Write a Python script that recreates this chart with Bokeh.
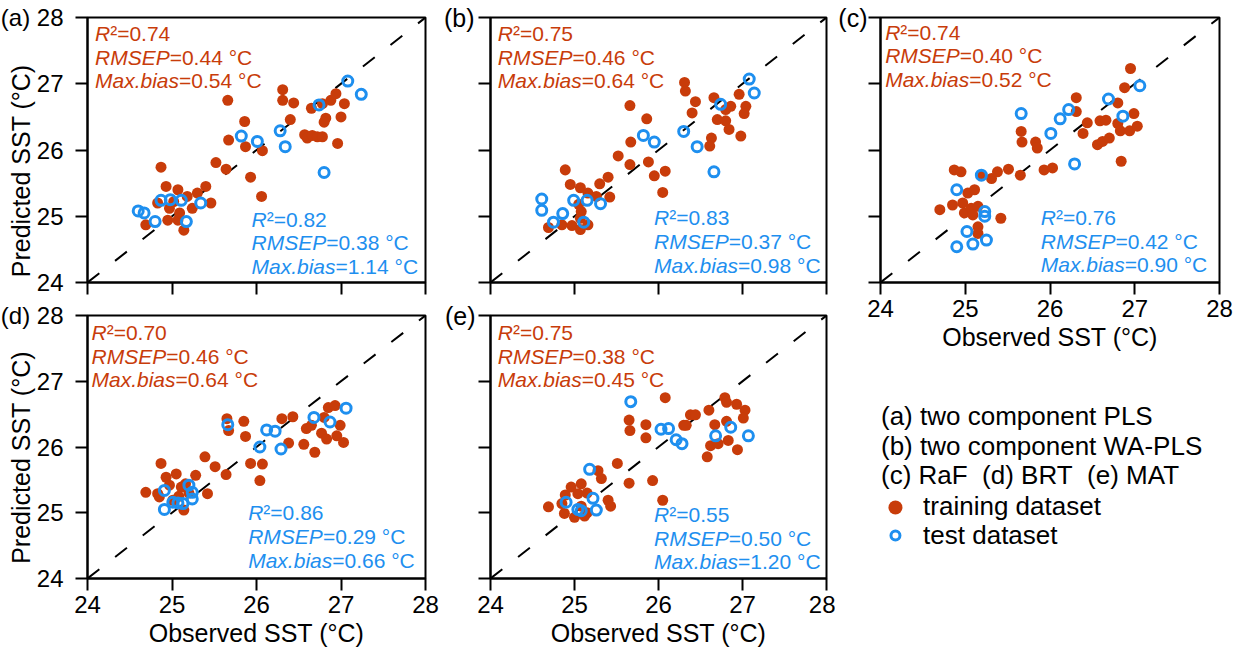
from bokeh.plotting import figure
from bokeh.models import Range1d, FixedTicker
from bokeh.layouts import row, column
from bokeh.core.properties import value
from bokeh.embed import file_html
from bokeh.resources import INLINE

# ---------------- data ----------------
axis_ticks = [24, 25, 26, 27, 28]
one_to_one = [24, 28]

panel_letters = ["(a)", "(b)", "(c)", "(d)", "(e)"]
model_names = ["two component PLS", "two component WA-PLS", "RaF", "BRT", "MAT"]

r2_train = [0.74, 0.75, 0.74, 0.70, 0.75]
rmsep_train = [0.44, 0.46, 0.40, 0.46, 0.38]
maxbias_train = [0.54, 0.64, 0.52, 0.64, 0.45]
r2_test = [0.82, 0.83, 0.76, 0.86, 0.55]
rmsep_test = [0.38, 0.37, 0.42, 0.29, 0.50]
maxbias_test = [1.14, 0.98, 0.90, 0.66, 1.20]

# (a) two component PLS
a_train_obs = [24.69, 24.87, 24.93, 24.83, 24.97, 24.95, 25.07, 25.07, 25.09, 25.14, 25.24, 25.30, 25.40, 25.46,
               25.52, 25.64, 25.66, 25.67, 25.86, 25.87, 25.93, 26.07, 26.06, 26.31, 26.31, 26.44, 26.40, 26.57,
               26.60, 26.66, 26.72, 26.78, 26.65, 26.78, 26.82, 26.80, 26.88, 26.94, 27.04, 27.00, 26.96, 25.18, 25.02]
a_train_pred = [24.87, 25.74, 25.45, 25.20, 25.12, 24.94, 24.94, 25.40, 25.05, 24.79, 25.12, 25.35, 25.45, 25.20,
                25.81, 25.71, 26.75, 26.15, 26.43, 26.05, 25.59, 25.99, 25.30, 26.91, 26.75, 26.71, 26.46, 26.23,
                26.18, 26.22, 26.20, 26.20, 26.63, 26.70, 26.48, 26.42, 26.75, 26.85, 26.70, 26.50, 26.10, 25.30, 25.22]
a_test_obs = [24.60, 24.67, 24.80, 24.87, 24.98, 25.11, 25.17, 25.34, 25.82, 26.01, 26.28, 26.34, 26.74, 26.80, 27.08, 27.24]
a_test_pred = [25.08, 25.05, 24.92, 25.24, 25.25, 25.24, 24.92, 25.20, 26.21, 26.13, 26.29, 26.05, 26.68, 25.66, 27.04, 26.84]

# (b) two component WA-PLS
b_train_obs = [24.69, 24.89, 24.95, 24.85, 24.97, 25.07, 25.07, 25.16, 25.05, 25.08, 25.07, 25.16, 25.26, 25.30,
               25.40, 25.42, 25.52, 25.66, 25.67, 25.66, 25.86, 25.88, 25.95, 26.08, 26.05, 26.31, 26.32, 26.44,
               26.40, 26.63, 26.61, 26.66, 26.70, 26.80, 26.80, 26.84, 26.86, 26.96, 26.98, 27.04, 27.02]
b_train_pred = [24.83, 25.70, 25.48, 24.87, 24.86, 25.43, 24.80, 25.35, 25.18, 25.07, 24.97, 24.87, 25.30, 25.49,
                25.59, 25.29, 25.91, 26.67, 26.12, 25.78, 26.47, 25.82, 25.61, 25.68, 25.36, 27.02, 26.89, 26.73,
                26.56, 26.18, 26.06, 26.79, 26.46, 26.61, 26.44, 26.31, 26.66, 26.84, 26.21, 26.66, 26.55]
b_test_obs = [24.61, 24.61, 24.75, 24.86, 24.99, 25.11, 25.15, 25.31, 25.82, 25.95, 26.30, 26.46, 26.66, 26.74, 27.08, 27.14]
b_test_pred = [25.26, 25.09, 24.91, 25.04, 25.24, 24.91, 25.24, 25.19, 26.22, 26.12, 26.28, 26.05, 25.67, 26.69, 27.07, 26.86]

# (c) RaF
c_train_obs = [24.70, 24.85, 24.87, 24.95, 24.97, 24.99, 25.03, 25.11, 25.07, 25.15, 25.09, 25.15, 25.15, 25.19,
               25.31, 25.38, 25.51, 25.65, 25.42, 25.66, 25.67, 25.83, 25.85, 25.93, 26.03, 26.31, 26.31, 26.44,
               26.39, 26.56, 26.62, 26.70, 26.59, 26.66, 26.80, 26.80, 26.83, 26.84, 26.88, 26.95, 26.94, 26.99, 27.03]
c_train_pred = [25.10, 25.17, 25.70, 25.67, 25.20, 25.05, 25.35, 25.40, 25.12, 25.15, 25.02, 24.84, 24.74, 25.62,
                25.57, 25.67, 25.71, 25.62, 24.97, 26.28, 26.12, 26.12, 26.03, 25.70, 25.73, 26.79, 26.58, 26.41,
                26.25, 26.08, 26.13, 26.18, 26.44, 26.45, 26.71, 26.40, 26.29, 25.83, 26.94, 27.23, 26.29, 26.55, 26.36]
c_test_obs = [24.90, 24.90, 25.02, 25.09, 25.19, 25.23, 25.23, 25.25, 25.66, 26.01, 26.12, 26.22, 26.29, 26.69, 26.86, 27.06]
c_test_pred = [25.40, 24.54, 24.77, 24.58, 25.62, 25.07, 25.00, 24.64, 26.55, 26.25, 26.47, 26.61, 25.79, 26.77, 26.51, 26.97]

# (d) BRT
d_train_obs = [24.69, 24.87, 24.83, 24.93, 25.05, 24.97, 25.11, 24.85, 25.01, 25.14, 25.16, 25.28, 25.39, 25.51,
               25.64, 25.42, 25.65, 25.67, 25.85, 25.87, 25.93, 26.07, 26.04, 26.30, 26.43, 26.38, 26.56, 26.59,
               26.65, 26.69, 26.80, 26.77, 26.83, 26.85, 26.93, 26.95, 26.99, 27.03, 25.20, 25.08]
d_train_pred = [25.31, 25.75, 25.29, 25.54, 25.59, 25.42, 25.39, 25.24, 25.19, 25.04, 25.44, 25.57, 25.85, 25.70,
                25.58, 25.29, 26.43, 26.25, 26.39, 26.16, 25.75, 25.74, 25.49, 26.43, 26.46, 26.06, 26.04, 26.28,
                26.33, 25.92, 26.45, 26.21, 26.12, 26.60, 26.63, 26.17, 26.33, 26.07, 25.30, 25.25]
d_test_obs = [24.91, 24.91, 25.01, 25.07, 25.13, 25.20, 25.24, 25.24, 25.66, 26.04, 26.12, 26.22, 26.29, 26.68, 26.87, 27.06]
d_test_pred = [25.34, 25.05, 25.16, 25.15, 25.14, 25.42, 25.31, 25.21, 26.34, 26.00, 26.26, 26.24, 25.97, 26.45, 26.38, 26.59]

# (e) MAT
e_train_obs = [24.69, 24.85, 24.89, 24.96, 25.08, 25.04, 25.15, 24.88, 25.00, 25.08, 25.15, 25.12, 25.28, 25.32,
               25.40, 25.43, 25.51, 25.65, 25.65, 25.66, 25.85, 25.85, 25.93, 26.08, 26.05, 26.30, 26.33, 26.38,
               26.44, 26.60, 26.58, 26.62, 26.67, 26.71, 26.79, 26.81, 26.81, 26.83, 26.93, 26.94, 27.03, 27.01]
e_train_pred = [25.09, 25.14, 25.27, 25.39, 25.44, 25.29, 25.30, 24.99, 24.93, 25.10, 25.00, 24.95, 25.64, 25.52,
                25.19, 25.10, 25.75, 25.45, 26.41, 26.25, 26.34, 26.14, 25.49, 26.75, 25.19, 26.33, 26.33, 26.49,
                26.49, 26.56, 25.85, 26.02, 26.34, 26.05, 26.75, 26.68, 26.39, 26.10, 26.65, 25.96, 26.56, 26.44]
e_test_obs = [24.90, 25.04, 25.08, 25.18, 25.22, 25.26, 25.67, 26.03, 26.12, 26.21, 26.28, 26.68, 26.86, 27.07]
e_test_pred = [25.16, 25.05, 25.03, 25.66, 25.22, 25.04, 26.69, 26.27, 26.28, 26.11, 26.05, 26.17, 26.30, 26.17]

train_obs = [a_train_obs, b_train_obs, c_train_obs, d_train_obs, e_train_obs]
train_pred = [a_train_pred, b_train_pred, c_train_pred, d_train_pred, e_train_pred]
test_obs = [a_test_obs, b_test_obs, c_test_obs, d_test_obs, e_test_obs]
test_pred = [a_test_pred, b_test_pred, c_test_pred, d_test_pred, e_test_pred]

# ---------------- style ----------------
RED = "#C83C0A"
BLUE = "#1E8FEF"
FONT = "Liberation Sans"
STAT_SIZE = 21
LINE_STEP = 23.7
NBSP = "\u00a0"

# Arial / Liberation Sans advance widths (1/1000 em)
ADV = {'R': 722, 'M': 833, 'S': 667, 'E': 667, 'P': 667, 'a': 556, 'x': 500, '.': 278,
       'b': 556, 'i': 222, 's': 500}


def text_w(s, size):
    return sum(ADV.get(c, 556) for c in s) / 1000.0 * size


# geometry per panel (canvas px): size, borders, frame, label/stat placement
# ypad: trailing spaces on the y label so it sits lower, as in the original
GEOM = [
    dict(w=440, h=300, bl=87, br=15, bt=17, bb=18, fw=338, fh=265, xl=False, yl=True, ls=12, ypad=6,
         red=(7.5, 16), blue=(164, 16)),
    dict(w=395, h=300, bl=47, br=9, bt=17, bb=18, fw=339, fh=265, xl=False, yl=False, ls=4, ypad=0,
         red=(7.3, 16), blue=(165, 17.5)),
    dict(w=403, h=353, bl=44, br=19, bt=17, bb=71, fw=340, fh=265, xl=True, yl=False, ls=1, ypad=0,
         red=(4.7, 14.5), blue=(160.7, 17.7)),
    dict(w=440, h=349, bl=87, br=15, bt=15, bb=71, fw=338, fh=263, xl=True, yl=True, ls=12, ypad=3,
         red=(4.0, 17), blue=(160.7, 18.3)),
    dict(w=395, h=349, bl=47, br=9, bt=15, bb=71, fw=339, fh=263, xl=True, yl=False, ls=3, ypad=0,
         red=(7.3, 17), blue=(165, 16.6)),
]


def stat_block(p, g, x_px, first_dy, lines, color, from_bottom):
    xs = g["fw"] / 4.0
    ys = g["fh"] / 4.0
    n = len(lines)
    for k, (ital, reg) in enumerate(lines):
        if from_bottom:
            dy = g["fh"] - first_dy - (n - 1 - k) * LINE_STEP
        else:
            dy = first_dy + k * LINE_STEP
        x = 24 + x_px / xs
        y = 28 - dy / ys
        p.text(x=[x], y=[y], text=[ital], text_font=value(FONT), text_font_size="%dpx" % STAT_SIZE,
               text_font_style="italic", text_color=color, text_baseline="middle", text_align="left")
        p.text(x=[x], y=[y], text=[reg], x_offset=text_w(ital, STAT_SIZE), text_font=value(FONT),
               text_font_size="%dpx" % STAT_SIZE, text_color=color, text_baseline="middle", text_align="left")


def style_axis(ax):
    ax.ticker = FixedTicker(ticks=axis_ticks)
    ax.minor_tick_line_color = None
    ax.major_tick_in = 0
    ax.major_tick_out = 12
    ax.major_tick_line_width = 2
    ax.major_tick_line_color = "black"
    ax.axis_line_width = 2
    ax.axis_line_color = "black"
    ax.major_label_text_font = FONT
    ax.major_label_text_color = "black"
    ax.axis_label_text_font = FONT
    ax.axis_label_text_font_style = "normal"
    ax.axis_label_text_color = "black"
    ax.axis_label_text_font_size = "25px"


def make_panel(i):
    g = GEOM[i]
    p = figure(width=g["w"], height=g["h"], x_range=Range1d(24, 28), y_range=Range1d(24, 28),
               output_backend="svg", toolbar_location=None,
               min_border_left=g["bl"], min_border_right=g["br"],
               min_border_top=g["bt"], min_border_bottom=g["bb"])
    p.grid.visible = False
    p.outline_line_color = "black"
    p.outline_line_width = 2
    p.border_fill_color = "white"
    p.background_fill_color = "white"

    xa = p.xaxis[0]
    ya = p.yaxis[0]
    style_axis(xa)
    style_axis(ya)

    # x axis
    if g["xl"]:
        xa.major_label_text_font_size = "24px"
        xa.axis_label = "Observed SST (°C)"
        xa.major_label_standoff = 5
        xa.axis_label_standoff = 3
    else:
        xa.major_label_overrides = {t: "" for t in axis_ticks}
        xa.major_label_text_font_size = "1px"
        xa.major_label_standoff = 0

    # y axis (the panel letter sits beside the top tick)
    if g["yl"]:
        ya.major_label_text_font_size = "24px"
        ya.major_label_overrides = {axis_ticks[-1]: "%s %d" % (panel_letters[i], axis_ticks[-1])}
        ya.axis_label = "Predicted SST (°C)" + NBSP * g["ypad"]
        ya.major_label_standoff = g["ls"]
        ya.axis_label_standoff = -37
    else:
        ov = {t: "" for t in axis_ticks}
        ov[axis_ticks[-1]] = panel_letters[i]
        ya.major_label_overrides = ov
        ya.major_label_text_font_size = "25px"
        ya.major_label_standoff = g["ls"]

    p.line(x=one_to_one, y=one_to_one, line_color="black", line_width=2, line_dash="15 20")
    p.scatter(x=train_obs[i], y=train_pred[i], size=11, fill_color=RED, line_color=None)
    p.scatter(x=test_obs[i], y=test_pred[i], size=10, fill_color=None, line_color=BLUE, line_width=3)

    stat_block(p, g, g["red"][0], g["red"][1],
               [("R", "²=%.2f" % r2_train[i]),
                ("RMSEP", "=%.2f °C" % rmsep_train[i]),
                ("Max.bias", "=%.2f °C" % maxbias_train[i])], RED, False)
    stat_block(p, g, g["blue"][0], g["blue"][1],
               [("R", "²=%.2f" % r2_test[i]),
                ("RMSEP", "=%.2f °C" % rmsep_test[i]),
                ("Max.bias", "=%.2f °C" % maxbias_test[i])], BLUE, True)
    return p


panels = [make_panel(i) for i in range(5)]

# legend panel (its frame is aligned with panel (c) above it)
LH = 296
gc = GEOM[2]
leg = figure(width=gc["w"], height=LH, x_range=Range1d(0, gc["fw"]), y_range=Range1d(LH, 0),
             x_axis_type=None, y_axis_type=None, output_backend="svg", toolbar_location=None,
             min_border_left=gc["bl"], min_border_right=gc["br"], min_border_top=0, min_border_bottom=0)
leg.grid.visible = False
leg.outline_line_color = None
leg.border_fill_color = "white"
leg.background_fill_color = "white"

legend_lines = ["%s %s" % (panel_letters[0], model_names[0]),
                "%s %s" % (panel_letters[1], model_names[1]),
                "%s %s\u00a0 %s %s\u00a0 %s %s" % (panel_letters[2], model_names[2], panel_letters[3],
                                                  model_names[3], panel_letters[4], model_names[4])]
leg.text(x=[0.5] * 3, y=[62, 92, 121], text=legend_lines, text_font=value(FONT), text_font_size="26px",
         text_color="black", text_baseline="middle", text_align="left")
leg.text(x=[42.7, 42.7], y=[152, 181], text=["training dataset", "test dataset"], text_font=value(FONT),
         text_font_size="26px", text_color="black", text_baseline="middle", text_align="left")
leg.scatter(x=[15], y=[154], size=14, fill_color=RED, line_color=None)
leg.scatter(x=[15], y=[182], size=9, fill_color=None, line_color=BLUE, line_width=3)

layout = row(column(panels[0], panels[3]), column(panels[1], panels[4]), column(panels[2], leg))

open("out.html", "w").write(file_html(layout, INLINE))
